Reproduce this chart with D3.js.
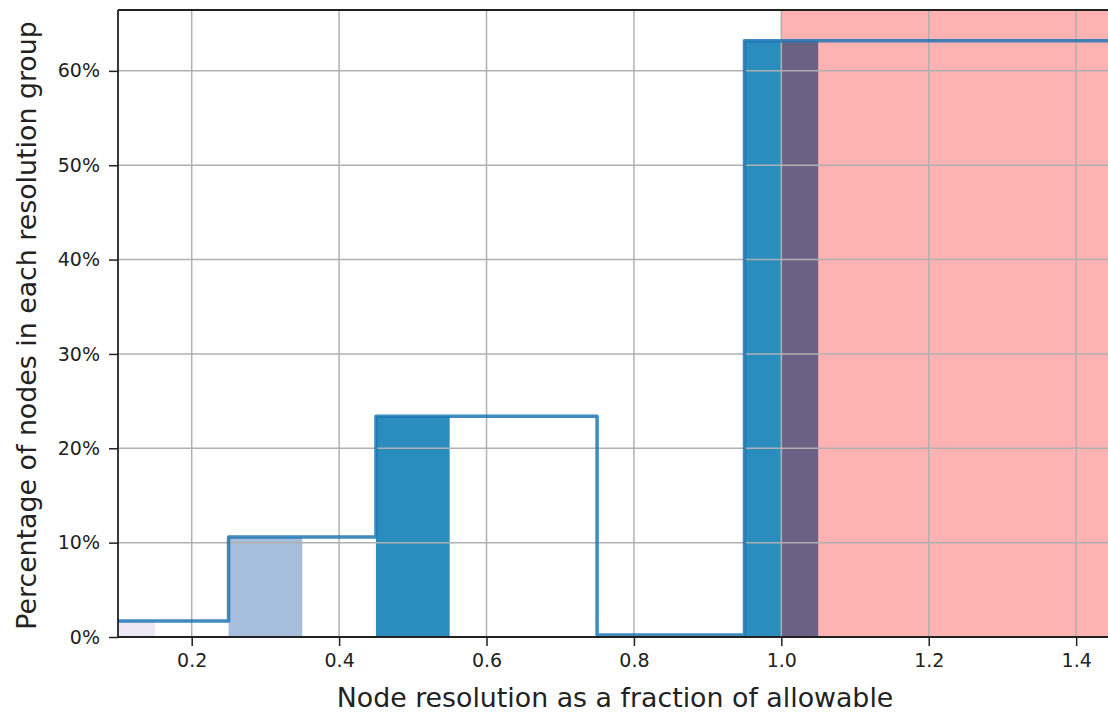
<!DOCTYPE html>
<html>
<head>
<meta charset="utf-8">
<script src="https://cdn.jsdelivr.net/npm/d3@7"></script>
<style>
  body { margin: 0; background: #fff; }
  text { font-family: "DejaVu Sans", sans-serif; fill: #222; }
</style>
</head>
<body>
<script>
// resolution groups (bar centres) and share of nodes in each, in %
var groupCenters = [0.1, 0.3, 0.5, 1.0];
var groupShares = [1.7, 10.6, 23.4, 63.2];
var groupWidth = 0.1;

// step outline: bin edges and level per bin, in %
var stepEdges = [0.05, 0.25, 0.45, 0.75, 0.95, 1.55];
var stepShares = [1.7, 10.6, 23.4, 0.2, 63.2];

var allowable = 1.0;
var xTicks = [0.2, 0.4, 0.6, 0.8, 1.0, 1.2, 1.4];
var yTicks = [0, 10, 20, 30, 40, 50, 60];

var groupColors = ["#ece7f2", "#a6bddb", "#2b8cbe", "#2b8cbe"];

var totalWidth = 1108, totalHeight = 713;
var margin = {top: 10, left: 118, bottom: 76, right: -5};
var width = totalWidth - margin.left - margin.right;
var height = totalHeight - margin.top - margin.bottom;

var svgin = d3.select("body").append("svg")
    .attr("width", totalWidth)
    .attr("height", totalHeight);

svgin.append("defs").append("clipPath").attr("id", "plot")
  .append("rect").attr("width", width).attr("height", height);

var svg = svgin.append("g")
    .attr("transform", "translate(" + margin.left + "," + margin.top + ")");

var xScale = d3.scaleLinear().domain([0.1, 1.45]).range([0, width]);
var yScale = d3.scaleLinear().domain([0, 66.45]).range([height, 0]);

var plot = svg.append("g").attr("clip-path", "url(#plot)");

plot.selectAll(".bar")
  .data(groupCenters)
  .enter().append("rect")
    .attr("class", "bar")
    .attr("x", function(d){ return xScale(d - groupWidth / 2); })
    .attr("width", function(d){ return xScale(d + groupWidth / 2) - xScale(d - groupWidth / 2); })
    .attr("y", function(d, i){ return yScale(groupShares[i]); })
    .attr("height", function(d, i){ return yScale(0) - yScale(groupShares[i]); })
    .attr("fill", function(d, i){ return groupColors[i]; });

// over-allowable region
plot.append("rect")
    .attr("x", xScale(allowable))
    .attr("width", xScale(1.6) - xScale(allowable))
    .attr("y", 0)
    .attr("height", height)
    .attr("fill", "red")
    .attr("fill-opacity", 0.3);

// grid
plot.append("g").selectAll("line")
  .data(xTicks).enter().append("line")
    .attr("x1", function(d){ return xScale(d); })
    .attr("x2", function(d){ return xScale(d); })
    .attr("y1", 0).attr("y2", height)
    .attr("stroke", "#b0b0b0").attr("stroke-width", 1.5);
plot.append("g").selectAll("line")
  .data(yTicks).enter().append("line")
    .attr("y1", function(d){ return yScale(d); })
    .attr("y2", function(d){ return yScale(d); })
    .attr("x1", 0).attr("x2", width)
    .attr("stroke", "#b0b0b0").attr("stroke-width", 1.5);

var stepPts = stepEdges.map(function(e, i){
  return [e, stepShares[Math.min(i, stepShares.length - 1)]];
});
var lineGen = d3.line()
    .x(function(d){ return xScale(d[0]); })
    .y(function(d){ return yScale(d[1]); })
    .curve(d3.curveStepAfter);

plot.append("path")
    .datum(stepPts)
    .attr("d", lineGen)
    .attr("fill", "none")
    .attr("stroke", "#1f77b4")
    .attr("stroke-opacity", 0.85)
    .attr("stroke-width", 3.5)
    .attr("stroke-linejoin", "round");

// axes
var xAxis = d3.axisBottom(xScale).tickValues(xTicks)
    .tickFormat(d3.format(".1f")).tickSize(9).tickPadding(8);
var xAxisg = svg.append("g")
    .attr("transform", "translate(0," + height + ")")
    .call(xAxis);

var yAxis = d3.axisLeft(yScale).tickValues(yTicks)
    .tickFormat(function(d){ return d + "%"; }).tickSize(9).tickPadding(9);
var yAxisg = svg.append("g").call(yAxis);

svg.selectAll(".tick text").attr("font-size", 19).attr("font-family", "DejaVu Sans").attr("fill", "#222");
svg.selectAll(".tick line").attr("stroke", "#222").attr("stroke-width", 1.5);
svg.selectAll(".domain").remove();

// spines
svg.append("line").attr("x1", 0).attr("x2", 0).attr("y1", 0).attr("y2", height)
    .attr("stroke", "#222").attr("stroke-width", 1.8);
svg.append("line").attr("x1", 0).attr("x2", width).attr("y1", height).attr("y2", height)
    .attr("stroke", "#222").attr("stroke-width", 1.8);
svg.append("line").attr("x1", 0).attr("x2", width).attr("y1", 0).attr("y2", 0)
    .attr("stroke", "#222").attr("stroke-width", 1.8);

svg.append("text")
    .attr("x", (337 + 893) / 2 - margin.left)
    .attr("y", height + 70)
    .attr("text-anchor", "middle")
    .attr("font-size", 26.8)
    .text("Node resolution as a fraction of allowable");

svg.append("text")
    .attr("transform", "translate(" + (-82) + "," + (height / 2 + 2) + ") rotate(-90)")
    .attr("text-anchor", "middle")
    .attr("font-size", 26.8)
    .text("Percentage of nodes in each resolution group");
</script>
</body>
</html>
